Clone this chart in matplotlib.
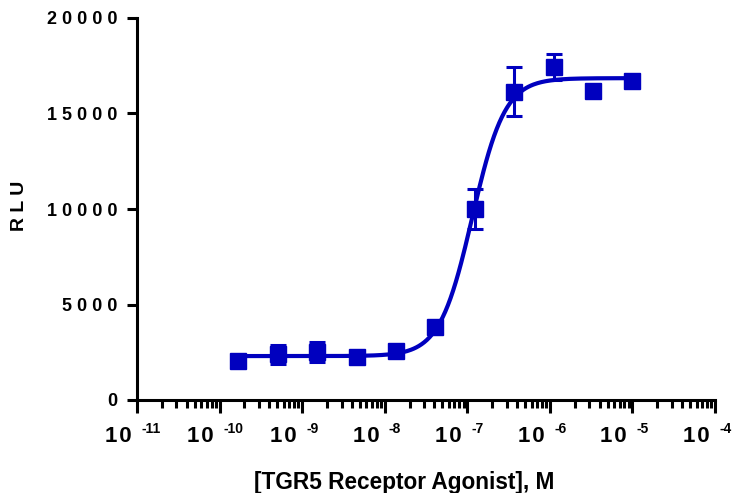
import numpy as np
import matplotlib
matplotlib.use("Agg")
import matplotlib.pyplot as plt
import matplotlib.transforms as mtransforms
from matplotlib.ticker import FixedLocator, LogLocator, FuncFormatter, NullFormatter

plt.rcParams['font.family'] = ['Liberation Sans', 'DejaVu Sans']
plt.rcParams['font.weight'] = 'bold'

# agonist concentration (M), 3-fold dilutions
conc = [1.69e-10, 5.08e-10, 1.52e-9, 4.57e-9, 1.37e-8, 4.12e-8,
        1.23e-7, 3.70e-7, 1.11e-6, 3.33e-6, 1.0e-5]
rlu = [2050, 2400, 2500, 2250, 2550, 3800, 10000, 16150, 17450, 16200, 16700]
rlu_err = [0, 500, 520, 0, 0, 0, 1050, 1280, 680, 0, 0]

# 4PL fit
fit_bottom = 2300
fit_top = 16850
fit_ec50 = 1.15e-7
fit_hill = 2.2

x_exponents = [-11, -10, -9, -8, -7, -6, -5, -4]
y_ticks = [0, 5000, 10000, 15000, 20000]

blue = '#0000BF'

fig = plt.figure(figsize=(7.38, 4.93), dpi=100)
ax = fig.add_axes([137/738, 1-400/493, (715-137)/738, 382/493])

xfit = np.logspace(np.log10(conc[0]), np.log10(conc[-1]), 300)
yfit = fit_bottom + (fit_top - fit_bottom) / (1 + (fit_ec50 / xfit) ** fit_hill)
ax.plot(xfit, yfit, color=blue, lw=3, zorder=2)
ax.errorbar(conc, rlu, yerr=rlu_err, fmt='s', color=blue, ms=12,
            elinewidth=2.2, capsize=6, capthick=2.2, zorder=3)

ax.set_xscale('log')
ax.set_xlim(1e-11, 1e-4)
ax.set_ylim(0, 20000)

ax.spines['top'].set_visible(False)
ax.spines['right'].set_visible(False)
ax.spines['left'].set_linewidth(2.2)
ax.spines['bottom'].set_linewidth(2.2)

ax.yaxis.set_major_locator(FixedLocator(y_ticks))
ax.yaxis.set_major_formatter(FuncFormatter(lambda v, p: ' '.join(str(int(v)))))
ax.xaxis.set_major_locator(FixedLocator([10.0 ** e for e in x_exponents]))
ax.xaxis.set_major_formatter(NullFormatter())
ax.xaxis.set_minor_locator(LogLocator(base=10, subs=np.arange(2, 10), numticks=20))
ax.xaxis.set_minor_formatter(NullFormatter())

ax.tick_params(axis='y', which='major', length=7, width=2.2, labelsize=13, pad=7)
ax.tick_params(axis='x', which='major', length=9, width=2.2)
ax.tick_params(axis='x', which='minor', length=6, width=2.2)

# "10" and its exponent drawn as two texts under each decade tick
trans = ax.get_xaxis_transform()
for e in x_exponents:
    t_base = mtransforms.offset_copy(trans, fig=fig, x=-4, y=-30, units='points')
    t_exp = mtransforms.offset_copy(trans, fig=fig, x=3, y=-24, units='points')
    ax.text(10.0 ** e, 0, '1\u200a0', transform=t_base, ha='right', va='baseline',
            fontsize=16, fontweight='bold', clip_on=False)
    ax.text(10.0 ** e, 0, '-%d' % abs(e), transform=t_exp, ha='left', va='baseline',
            fontsize=10, fontweight='bold', clip_on=False)

fig.text(20/738, 1-206/493, 'R L U', rotation=90, ha='center', va='center',
         fontsize=14, fontweight='bold')
fig.text(404/738, 1-482/493, '[TGR5 Receptor Agonist], M', ha='center', va='center',
         fontsize=16.3, fontweight='bold')

fig.savefig('out.png', dpi=100)
